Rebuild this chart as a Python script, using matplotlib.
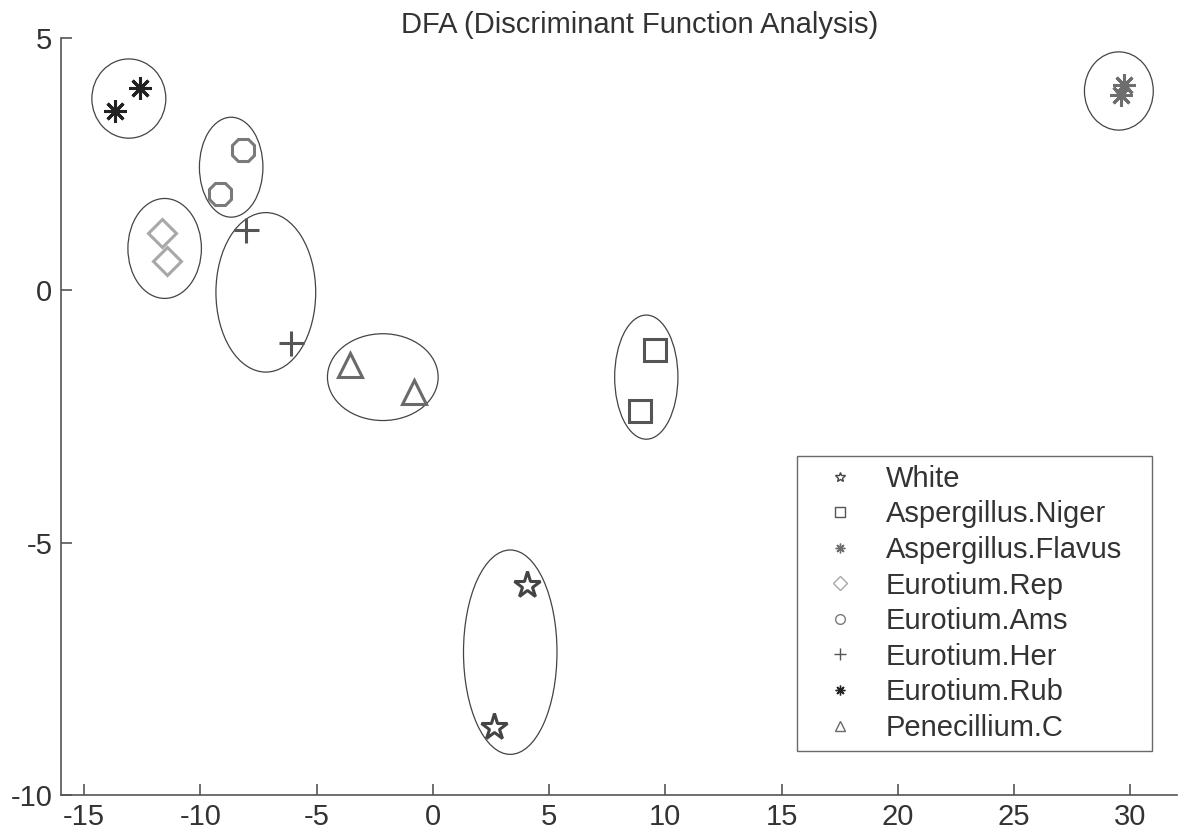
import numpy as np
import matplotlib.pyplot as plt
from matplotlib.patches import Ellipse
from matplotlib.lines import Line2D

plt.rcParams['font.family'] = ['Liberation Sans', 'DejaVu Sans']
plt.rcParams['axes.unicode_minus'] = False

# group names (legend order)
groups = ['White', 'Aspergillus.Niger', 'Aspergillus.Flavus', 'Eurotium.Rep',
          'Eurotium.Ams', 'Eurotium.Her', 'Eurotium.Rub', 'Penecillium.C']

# discriminant scores, two samples per group
x_white = [4.03, 2.62]
y_white = [-5.84, -8.65]
x_niger = [9.56, 8.90]
y_niger = [-1.18, -2.40]
x_flavus = [29.7, 29.6]
y_flavus = [4.07, 3.87]
x_rep = [-11.64, -11.42]
y_rep = [1.13, 0.59]
x_ams = [-8.18, -9.14]
y_ams = [2.79, 1.90]
x_her = [-8.02, -6.09]
y_her = [1.20, -1.05]
x_rub = [-13.67, -12.60]
y_rub = [3.55, 4.00]
x_pen = [-3.58, -0.79]
y_pen = [-1.48, -2.01]

# group ellipses (centre, full width, full height), same order as groups
ell_cx = [3.33, 9.18, 29.5, -11.53, -8.67, -7.18, -13.07, -2.15]
ell_cy = [-7.17, -1.72, 3.95, 0.83, 2.44, -0.04, 3.80, -1.72]
ell_w = [4.02, 2.72, 2.96, 3.16, 2.73, 4.29, 3.18, 4.76]
ell_h = [4.05, 2.46, 1.55, 1.98, 1.98, 3.16, 1.57, 1.72]

xs = [x_white, x_niger, x_flavus, x_rep, x_ams, x_her, x_rub, x_pen]
ys = [y_white, y_niger, y_flavus, y_rep, y_ams, y_her, y_rub, y_pen]

markers = ['*', 's', (8, 2, 0), 'D', '8', '+', (8, 2, 0), '^']
leg_markers = ['*', 's', (8, 2, 0), 'D', 'o', '+', (8, 2, 0), '^']
colors = ['#444444', '#555555', '#6e6e6e', '#a8a8a8', '#7a7a7a', '#555555', '#222222', '#6a6a6a']
sizes = [20, 16, 16, 14, 17, 18, 16, 17]
leg_sizes = [7, 7, 7, 7, 7, 8, 7, 7]

fig = plt.figure(figsize=(11.79, 8.39), dpi=100)
ax = fig.add_axes([60.7/1179, 44/839, (1177-60.7)/1179, (795-38)/839])

for i in range(len(groups)):
    ax.plot(xs[i], ys[i], linestyle='none', marker=markers[i], ms=sizes[i],
            mfc='none', mec=colors[i], mew=2.2, zorder=3)
    ax.add_patch(Ellipse((ell_cx[i], ell_cy[i]), ell_w[i], ell_h[i],
                         fill=False, ec='#444444', lw=0.9))

ax.set_xlim(-16, 32)
ax.set_ylim(-10, 5)
ax.set_xticks(np.arange(-15, 31, 5))
ax.set_yticks([-10, -5, 0, 5])
ax.spines['top'].set_visible(False)
ax.spines['right'].set_visible(False)
for s in ['left', 'bottom']:
    ax.spines[s].set_color('#555555')
    ax.spines[s].set_linewidth(1.2)
ax.tick_params(direction='in', length=8, width=1.2, color='#555555',
               labelsize=21, labelcolor='#333333')
ax.tick_params(axis='x', pad=6)
ax.tick_params(axis='y', pad=6)

fig.text(640/1179, 1 - 25/839, 'DFA (Discriminant Function Analysis)',
         ha='center', va='center', fontsize=21, color='#333333')

handles = [Line2D([], [], linestyle='none', marker=leg_markers[i], ms=leg_sizes[i],
                  mfc='none', mec=colors[i], mew=1.0) for i in range(len(groups))]
leg = ax.legend(handles, groups, loc='upper left',
                bbox_to_anchor=(796.7/1179, 1 - 456/839 - 0.01, (1151.7-796.7)/1179, 0.01),
                bbox_transform=fig.transFigure, mode='expand', fontsize=21,
                frameon=True, fancybox=False, borderpad=0.3, labelspacing=0.26,
                handlelength=2.35, handletextpad=0.4, borderaxespad=0)
leg.get_frame().set_edgecolor('#444444')
leg.get_frame().set_linewidth(1.0)
for t in leg.get_texts():
    t.set_color('#333333')

fig.savefig('out.png', dpi=100)
